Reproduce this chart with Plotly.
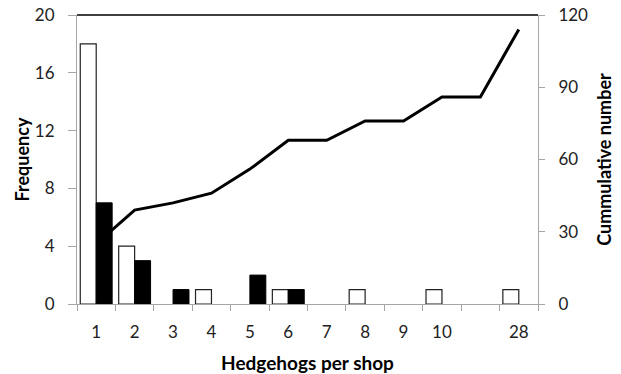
import plotly.graph_objects as go

categories = ["1", "2", "3", "4", "5", "6", "7", "8", "9", "10", " ", "28"]
freq_open = [18, 4, 0, 1, 0, 1, 0, 1, 0, 1, 0, 1]
freq_solid = [7, 3, 1, 0, 2, 1, 0, 0, 0, 0, 0, 0]
cumulative = [25, 39, 42, 46, 56, 68, 68, 76, 76, 86, 86, 114]

FONT = "Lato"
AX = "#a6a6a6"
XTITLE_FONT = dict(family=FONT, size=19, color="black", weight="bold")
YTITLE_FONT = dict(family=FONT, size=18, color="black", weight="bold")

def nz(vals):
    return [v if v else None for v in vals]

fig = go.Figure()
fig.add_trace(go.Scatter(
    x=categories, y=cumulative, mode="lines", yaxis="y",
    line=dict(color="black", width=3), showlegend=False, cliponaxis=False))
fig.add_trace(go.Bar(
    x=categories, y=nz(freq_open), yaxis="y2",
    marker=dict(color="white", line=dict(color="#222222", width=1.2)), showlegend=False))
fig.add_trace(go.Bar(
    x=categories, y=nz(freq_solid), yaxis="y2",
    marker=dict(color="black", line=dict(color="black", width=1)), showlegend=False))

fig.update_layout(
    width=621, height=374,
    margin=dict(l=77, r=83, t=15, b=70),
    paper_bgcolor="white", plot_bgcolor="white",
    barmode="group", bargap=0.17, bargroupgap=0,
    font=dict(family=FONT, size=17, color="#222222"),
    xaxis=dict(
        type="category", categoryorder="array", categoryarray=categories,
        tickson="boundaries", ticks="outside", ticklen=6, tickcolor=AX,
        showline=True, linecolor=AX, linewidth=1, showgrid=False,
        ticklabelstandoff=13, automargin=False,
        title=dict(text="Hedgehogs per shop", standoff=23, font=XTITLE_FONT),
    ),
    yaxis=dict(
        side="right", range=[0, 120], tickvals=[0, 30, 60, 90, 120],
        ticks="outside", ticklen=6, tickcolor=AX,
        showline=True, linecolor=AX, linewidth=1, showgrid=False, zeroline=False,
        ticklabelstandoff=10, automargin=False,
        title=dict(text="Cummulative number", standoff=11, font=YTITLE_FONT),
    ),
    yaxis2=dict(
        overlaying="y", side="left", range=[0, 20], tickvals=[0, 4, 8, 12, 16, 20],
        ticks="outside", ticklen=8, tickcolor=AX,
        showline=True, linecolor=AX, linewidth=1, showgrid=False, zeroline=False,
        ticklabelstandoff=10, automargin=False,
        title=dict(text="Frequency", standoff=0, font=YTITLE_FONT),
    ),
    shapes=[dict(type="line", xref="paper", yref="paper", x0=0, x1=1, y0=1, y1=1,
                 line=dict(color="black", width=1.5))],
)

# remove the default 8px page margin so the figure sits at the window's corner
fig.write_html("out.html", config={"displayModeBar": False},
               post_script="document.body.style.margin='0';document.body.style.overflow='hidden';")
